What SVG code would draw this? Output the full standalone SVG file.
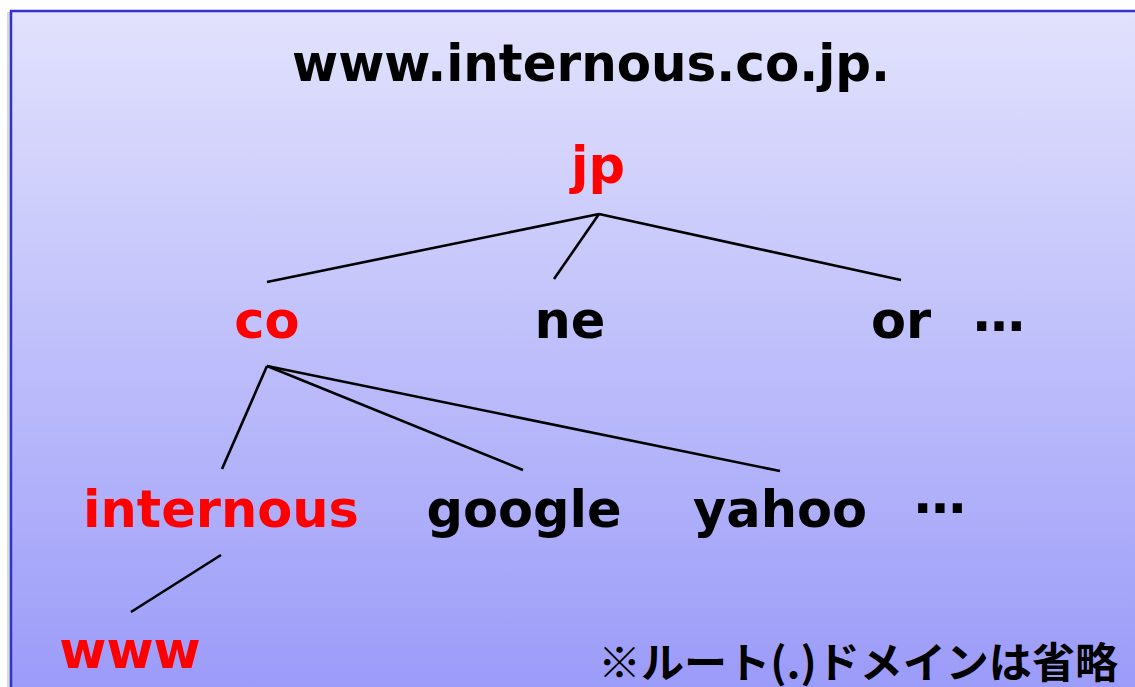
<svg xmlns="http://www.w3.org/2000/svg" width="1135" height="687" viewBox="0 0 1135 687">
<defs>
<linearGradient id="bg" x1="0" y1="0" x2="0" y2="1">
<stop offset="0" stop-color="#e2e2fd"/>
<stop offset="1" stop-color="#9a9af9"/>
</linearGradient>
<style>
.t{font-family:"DejaVu Sans","Verdana",sans-serif;font-weight:bold;font-size:51px;text-anchor:middle}
.r{fill:#ff0000}
.k{fill:#000000}
.e{font-family:"DejaVu Sans",sans-serif;font-weight:bold;font-size:52px;fill:#000}
.jn{font-family:"Noto Sans CJK JP",sans-serif;font-weight:bold;font-size:42px;fill:#000}
.c line{stroke:#000;stroke-width:2.6;stroke-linecap:butt}
</style>
</defs>
<rect x="0" y="0" width="1135" height="687" fill="#ffffff"/>
<rect x="7" y="12" width="3" height="680" fill="#d8d8d8"/>
<rect x="11" y="11" width="1130" height="690" fill="url(#bg)" stroke="#3333cc" stroke-width="2.5"/>
<g id="title"><text class="t k" x="591" y="81" textLength="598" lengthAdjust="spacingAndGlyphs">www.internous.co.jp.</text></g>
<g class="c" id="connectors">
<line x1="599" y1="214" x2="267" y2="282"/>
<line x1="599" y1="214" x2="554" y2="279"/>
<line x1="599" y1="214" x2="901" y2="280"/>
<line x1="267" y1="366" x2="222" y2="469"/>
<line x1="267" y1="366" x2="523" y2="470"/>
<line x1="267" y1="366" x2="780" y2="471"/>
<line x1="221" y1="555" x2="131" y2="612"/>
</g>
<g id="node-jp"><text class="t r" x="598" y="183">jp</text></g>
<g id="node-co"><text class="t r" x="267" y="338">co</text></g>
<g id="node-ne"><text class="t k" x="570" y="338">ne</text></g>
<g id="node-or"><text class="t k" x="901" y="338">or</text></g>
<g id="node-more1"><text class="e" x="973" y="331">…</text></g>
<g id="node-internous"><text class="t r" x="221" y="527">internous</text></g>
<g id="node-google"><text class="t k" x="524" y="527">google</text></g>
<g id="node-yahoo"><text class="t k" x="780" y="527">yahoo</text></g>
<g id="node-more2"><text class="e" x="914" y="513">…</text></g>
<g id="node-www"><text class="t r" x="130" y="668">www</text></g>
<g id="note"><text class="jn" x="598" y="678" textLength="520" lengthAdjust="spacingAndGlyphs">※ルート(.)ドメインは省略</text></g>
</svg>
